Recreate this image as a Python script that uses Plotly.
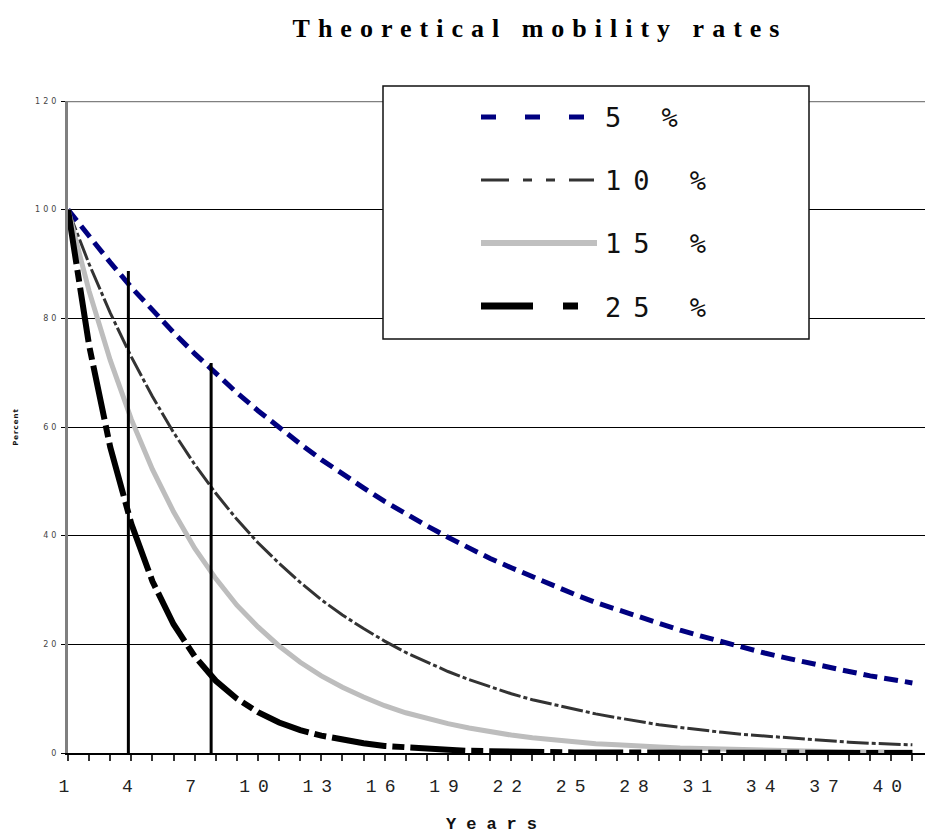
import plotly.graph_objects as go

# ---------------- data ----------------
years = list(range(1, 42))
tick_years = [1, 4, 7, 10, 13, 16, 19, 22, 25, 28, 31, 34, 37, 40]
tick_labels = ["1", "4", "7", "10", "13", "16", "19", "22", "25", "28", "31", "34", "37", "40"]
y_ticks = [0, 20, 40, 60, 80, 100, 120]
y_labels = ["0", "20", "40", "60", "80", "100", "120"]

series_names = ["5 %", "10 %", "15 %", "25 %"]
rate_5 = [100, 95, 90.3, 85.7, 81.5, 77.4, 73.5, 69.8, 66.3, 63.0, 59.9, 56.9, 54.0, 51.3,
          48.8, 46.3, 44.0, 41.8, 39.7, 37.7, 35.8, 34.1, 32.4, 30.7, 29.2, 27.7, 26.4, 25.0,
          23.8, 22.6, 21.5, 20.4, 19.4, 18.4, 17.5, 16.6, 15.8, 15.0, 14.2, 13.5, 12.9]
rate_10 = [100, 90, 81, 72.9, 65.6, 59.0, 53.1, 47.8, 43.0, 38.7, 34.9, 31.4, 28.2, 25.4,
           22.9, 20.6, 18.5, 16.7, 15.0, 13.5, 12.2, 10.9, 9.8, 8.9, 8.0, 7.2, 6.5, 5.8,
           5.2, 4.7, 4.2, 3.8, 3.4, 3.1, 2.8, 2.5, 2.3, 2.0, 1.8, 1.6, 1.5]
rate_15 = [100, 85, 72.3, 61.4, 52.2, 44.4, 37.7, 32.1, 27.2, 23.2, 19.7, 16.7, 14.2, 12.1,
           10.3, 8.7, 7.4, 6.3, 5.4, 4.6, 3.9, 3.3, 2.8, 2.4, 2.0, 1.7, 1.5, 1.2,
           1.1, 0.9, 0.8, 0.6, 0.5, 0.5, 0.4, 0.3, 0.3, 0.2, 0.2, 0.2, 0.2]
rate_25 = [100, 75, 56.3, 42.2, 31.6, 23.7, 17.8, 13.3, 10.0, 7.5, 5.6, 4.2, 3.2, 2.4,
           1.8, 1.3, 1.0, 0.8, 0.6, 0.4, 0.3, 0.2, 0.2, 0.1, 0.1, 0.1, 0.1, 0.0,
           0.0, 0.0, 0.0, 0.0, 0.0, 0.0, 0.0, 0.0, 0.0, 0.0, 0.0, 0.0, 0.0]

# reference markers (vertical lines)
marker_years = [3.86, 7.78]
marker_tops = [88.7, 71.8]
marker_base = [0, 0]

# ---------------- styles ----------------
styles = [
    dict(color="#000080", width=5, dash="14px,7px"),
    dict(color="#333333", width=3, dash="22px,3px,4px,3px"),
    dict(color="#BDBDBD", width=5, dash="solid"),
    dict(color="#000000", width=6, dash="55px,6px,12px,6px"),
]
legend_styles = [
    dict(color="#000080", width=5, dash="15px,29px"),
    dict(color="#333333", width=3, dash="28px,14px,9px,14px,9px,14px"),
    dict(color="#C0C0C0", width=6, dash="solid"),
    dict(color="#000000", width=7, dash="52px,30px,15px,30px"),
]

W, H = 925, 834
L, R, T, B = 68, 0, 101, 81
PW, PH = W - L - R, H - T - B


def px_x(p):
    return (p - L) / PW


def px_y(p):
    return (H - B - p) / PH


def spaced(txt, sp):
    return '<span style="letter-spacing:%spx">%s</span>' % (sp, txt)


fig = go.Figure()
all_series = [rate_5, rate_10, rate_15, rate_25]
for name, vals, st in zip(series_names, all_series, styles):
    fig.add_trace(go.Scatter(x=years, y=vals, mode="lines", name=name,
                             line=dict(color=st["color"], width=st["width"], dash=st["dash"]),
                             showlegend=False))

for xv, y0, y1 in zip(marker_years, marker_base, marker_tops):
    fig.add_trace(go.Scatter(x=[xv, xv], y=[y0, y1], mode="lines",
                             line=dict(color="#000000", width=3), showlegend=False,
                             hoverinfo="skip"))

shapes = [
    dict(type="line", xref="paper", yref="y", x0=0, x1=1, y0=120, y1=120,
         line=dict(color="#808080", width=2.5), layer="above"),
    dict(type="rect", xref="paper", yref="paper", x0=px_x(383), x1=px_x(809),
         y0=px_y(339), y1=px_y(86), line=dict(color="#111111", width=1.5),
         fillcolor="white", layer="above"),
]
row_y = [117, 180, 243, 306]
line_end = [585, 594, 597, 578]
annotations = []
for name, st, ry, xe in zip(series_names, legend_styles, row_y, line_end):
    shapes.append(dict(type="line", xref="paper", yref="paper", x0=px_x(481), x1=px_x(xe),
                       y0=px_y(ry), y1=px_y(ry),
                       line=dict(color=st["color"], width=st["width"], dash=st["dash"]),
                       layer="above"))
    annotations.append(dict(xref="paper", yref="paper", x=px_x(603), y=px_y(ry + 1),
                            xanchor="left", yanchor="middle", showarrow=False,
                            text=spaced(name, 12),
                            font=dict(family="DejaVu Sans Mono", size=27, color="#111111")))

fig.update_layout(
    width=W, height=H,
    margin=dict(l=L, r=R, t=T, b=B, pad=0),
    paper_bgcolor="white", plot_bgcolor="white",
    showlegend=False,
    title=dict(text=spaced("Theoretical mobility rates", 8),
               x=540 / W, xanchor="center", y=1 - 28 / H, yanchor="middle",
               font=dict(family="Liberation Serif", size=26, color="#000000", weight="bold")),
    shapes=shapes,
    annotations=annotations,
    xaxis=dict(range=[1, 1 + PW / 21.11], tickmode="array", tickvals=tick_years,
               ticktext=[spaced(t, 8) for t in tick_labels],
               ticks="outside", ticklen=6, tickcolor="#333333", tickwidth=1.5,
               minor=dict(tick0=1, dtick=1, ticks="outside", ticklen=6,
                          tickcolor="#333333", tickwidth=1.5, showgrid=False),
               showgrid=False, zeroline=False, showline=True, linecolor="#000000",
               linewidth=2, ticklabelstandoff=9,
               tickfont=dict(family="Liberation Mono", size=18, color="#222222"),
               title=dict(text=spaced("Years", 10), standoff=25,
                          font=dict(family="Liberation Mono", size=17, color="#111111",
                                    weight="bold"))),
    yaxis=dict(range=[0, 120], tickmode="array", tickvals=y_ticks,
               ticktext=[spaced(t, 3) for t in y_labels],
               ticks="outside", ticklen=4, tickcolor="#000000",
               showgrid=True, gridcolor="#000000", gridwidth=1, zeroline=False,
               showline=True, linecolor="#808080", linewidth=3,
               tickfont=dict(family="DejaVu Sans", size=8, color="#444444"),
               title=dict(text=spaced("Percent", 1), standoff=16,
                          font=dict(family="DejaVu Sans", size=7, color="#111111",
                                    weight="bold"))),
)

fig.write_html("out.html")
